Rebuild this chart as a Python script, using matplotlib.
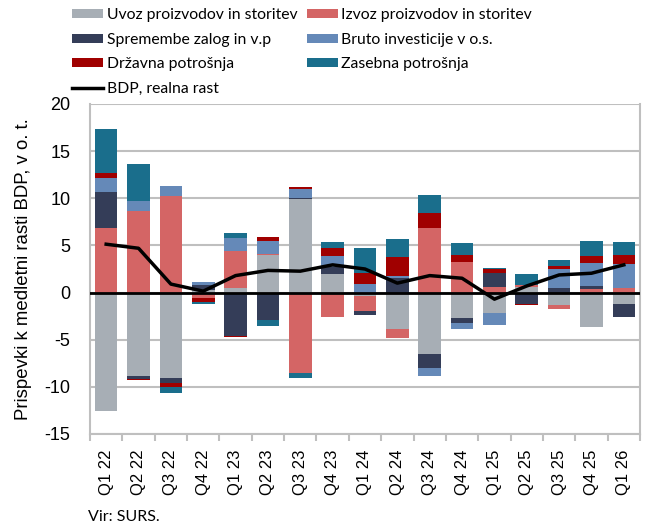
import matplotlib
matplotlib.use("Agg")
import matplotlib.pyplot as plt
import numpy as np
from matplotlib.ticker import FixedLocator

categories = ["Q1 22", "Q2 22", "Q3 22", "Q4 22", "Q1 23", "Q2 23", "Q3 23", "Q4 23",
              "Q1 24", "Q2 24", "Q3 24", "Q4 24", "Q1 25", "Q2 25", "Q3 25", "Q4 25", "Q1 26"]

uvoz = [-12.6, -8.9, -9.05, 0.3, 0.5, 4.0, 9.93, 1.98, -0.32, -3.85, -6.5, -2.69, -2.16, 0.6, -1.31, -3.6, -1.16]
izvoz = [6.9, 8.63, 10.25, -0.53, 3.9, 0.1, -8.48, -2.54, -1.62, -1.0, 6.86, 3.29, 0.64, 0.2, -0.42, 0.42, 0.53]
zaloge = [3.8, -0.28, -0.55, 0.55, -4.56, -2.9, 0.15, 0.7, -0.39, 1.52, -1.48, -0.53, 1.45, -1.16, 0.5, 0.29, -1.38]
investicije = [1.5, 1.1, 1.05, 0.25, 1.4, 1.4, 0.9, 1.2, 0.92, 0.25, -0.82, -0.6, -1.23, 0.0, 2.0, 2.47, 2.55]
drzavna = [0.5, -0.1, -0.4, -0.42, -0.1, 0.42, 0.25, 0.88, 1.13, 2.0, 1.6, 0.7, 0.42, -0.14, 0.32, 0.74, 0.95]
zasebna = [4.7, 3.9, -0.7, -0.25, 0.5, -0.6, -0.57, 0.6, 2.7, 1.9, 1.9, 1.27, 0.1, 1.17, 0.64, 1.56, 1.34]
bdp = [5.13, 4.7, 0.9, 0.15, 1.8, 2.35, 2.27, 2.94, 2.5, 1.0, 1.8, 1.52, -0.7, 0.7, 1.87, 2.05, 2.94]

series = [
    ("Uvoz proizvodov in storitev", uvoz, "#A7AEB5"),
    ("Izvoz proizvodov in storitev", izvoz, "#D46565"),
    ("Spremembe zalog in v.p", zaloge, "#343D58"),
    ("Bruto investicije v o.s.", investicije, "#6589B8"),
    ("Državna potrošnja", drzavna, "#A00000"),
    ("Zasebna potrošnja", zasebna, "#1A6E8C"),
]
gdp_label = "BDP, realna rast"
yticks = [-15, -10, -5, 0, 5, 10, 15, 20]

narrow = ["Lato", "DejaVu Sans"]
arial = ["Liberation Sans", "DejaVu Sans"]

fig = plt.figure(figsize=(6.5, 5.32), dpi=100)
ax = fig.add_axes([90 / 650, 1 - 434 / 532, 550 / 650, 330 / 532])

x = np.arange(len(categories))
pos_base = np.zeros(len(categories))
neg_base = np.zeros(len(categories))
handles = {}
for name, vals, col in series:
    v = np.array(vals, dtype=float)
    pos = np.where(v > 0, v, 0)
    neg = np.where(v < 0, v, 0)
    b = ax.bar(x, pos, 0.7, bottom=pos_base, color=col, label=name, zorder=3)
    ax.bar(x, neg, 0.7, bottom=neg_base, color=col, zorder=3)
    pos_base += pos
    neg_base += neg
    handles[name] = b

ax.axhline(0, color="black", lw=2, zorder=4)
ln, = ax.plot(x, bdp, color="black", lw=2.5, zorder=5, label=gdp_label)

ax.set_xlim(-0.5, len(categories) - 0.5)
ax.set_ylim(-15, 20)
ax.set_yticks(yticks)
ax.set_yticklabels([str(t) for t in yticks], fontsize=13, family=arial)
ax.yaxis.grid(True, color="#BFBFBF", lw=1.5, zorder=0)
ax.tick_params(axis="y", length=0, pad=14)

ax.set_xticks(x)
ax.set_xticklabels(categories, rotation=90, fontsize=12, family=arial)
ax.tick_params(axis="x", which="major", length=0, pad=11)
ax.xaxis.set_minor_locator(FixedLocator(np.arange(-0.5, len(categories), 1.0)))
ax.tick_params(axis="x", which="minor", length=5, color="#BFBFBF", width=1.5)

for s in ["left", "right", "bottom"]:
    ax.spines[s].set_color("#BFBFBF")
    ax.spines[s].set_linewidth(1.5)
ax.spines["top"].set_visible(False)

ax.set_ylabel("Prispevki k medletni rasti BDP, v o. t.", fontsize=13.4, family=arial, labelpad=9)

order = [series[0][0], series[2][0], series[4][0], None, series[1][0], series[3][0], series[5][0]]
hl = []
ll = []
for n in order:
    if n is None:
        hl.append(ln)
        ll.append(gdp_label)
    else:
        hl.append(handles[n])
        ll.append(n)
fig.legend(hl, ll, ncol=2, loc="upper left", bbox_to_anchor=(72 / 650, 1 - 8 / 532),
           frameon=False, prop={"family": narrow, "size": 11.3}, handlelength=2.0,
           handleheight=0.5, handletextpad=0.2, labelspacing=0.68, columnspacing=0.6,
           borderpad=0, borderaxespad=0)

fig.text(88 / 650, 1 - 517 / 532, "Vir: SURS.", fontsize=11.5, family=narrow, va="center")

fig.savefig("out.png", dpi=100)
